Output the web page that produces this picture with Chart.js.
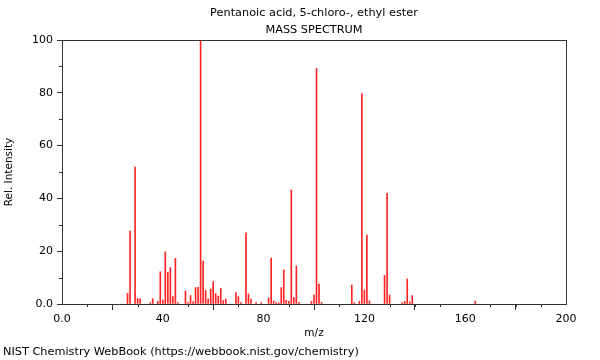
<!DOCTYPE html>
<html><head><meta charset="utf-8">
<script src="https://cdn.jsdelivr.net/npm/chart.js@4/dist/chart.umd.min.js"></script>
<style>html,body{margin:0;padding:0;background:#fff}#wrap{width:600px;height:360px}</style>
</head><body><div id="wrap"><canvas id="c" width="600" height="360"></canvas></div>
<script>
const titleLines = ['Pentanoic acid, 5-chloro-, ethyl ester', 'MASS SPECTRUM'];
const footerText = 'NIST Chemistry WebBook (https://webbook.nist.gov/chemistry)';
const xAxisTitle = 'm/z';
const yAxisTitle = 'Rel. Intensity';
const mzValues = [26,27,29,30,31,35,36,38,39,40,41,42,43,44,45,46,49,50,51,52,53,54,55,56,57,58,59,60,61,62,63,64,65,69,70,71,73,74,75,77,79,82,83,84,85,86,87,88,89,90,91,92,93,94,99,100,101,102,103,115,116,118,119,120,121,122,128,129,130,135,136,137,138,139,164];
const intensities = [4.0,27.6,51.9,2.1,2.0,0.5,2.0,1.0,12.2,1.5,19.7,12.0,13.8,2.8,17.3,0.5,4.9,0.5,3.2,0.8,6.2,6.3,100,16.3,5.1,1.9,5.7,8.5,4.0,3.0,5.9,1.3,1.9,4.3,2.8,0.5,27.0,3.8,1.9,0.5,0.5,2.3,17.4,1.2,0.5,0.5,6.2,12.9,1.4,1.0,43.2,2.4,14.4,0.6,1.0,3.4,89.2,7.5,0.6,7.2,0.5,1.0,79.7,5.3,26.1,1.2,10.8,41.9,3.4,0.5,1.0,9.5,0.8,3.2,1.1];
const xTickValues = [0,40,80,120,160,200];
const yTickValues = [0,20,40,60,80,100];
const xMinorStep = 10;
const yMinorStep = 10;

const axisColor = '#333333';
const barColor = 'rgb(255,35,35)';

const decor = {
  id: 'decor',
  afterDraw(chart) {
    const ctx = chart.ctx;
    const a = chart.chartArea;
    const xs = chart.scales.x, ys = chart.scales.y;
    ctx.save();
    ctx.strokeStyle = axisColor;
    ctx.lineWidth = 1;
    ctx.beginPath();
    ctx.moveTo(a.left, Math.round(a.top) + 0.5);
    ctx.lineTo(a.right, Math.round(a.top) + 0.5);
    ctx.moveTo(Math.round(a.right) + 0.5, a.top);
    ctx.lineTo(Math.round(a.right) + 0.5, a.bottom);
    for (let v = xs.min; v <= xs.max; v += xMinorStep) {
      if (xTickValues.includes(v)) continue;
      const px = Math.round(xs.getPixelForValue(v)) + 0.5;
      ctx.moveTo(px, a.bottom);
      ctx.lineTo(px, a.bottom + 3);
    }
    for (let v = ys.min; v <= ys.max; v += yMinorStep) {
      if (yTickValues.includes(v)) continue;
      const py = Math.round(ys.getPixelForValue(v)) + 0.5;
      ctx.moveTo(a.left, py);
      ctx.lineTo(a.left - 3, py);
    }
    ctx.stroke();
    ctx.fillStyle = '#000';
    ctx.font = '11.3px "DejaVu Sans"';
    ctx.textAlign = 'center';
    ctx.textBaseline = 'middle';
    const cx = (a.left + a.right) / 2;
    ctx.fillText(titleLines[0], cx, 13);
    ctx.fillText(titleLines[1], cx, 30);
    ctx.textAlign = 'left';
    ctx.fillText(footerText, 3, 352);
    ctx.restore();
  }
};

new Chart(document.getElementById('c'), {
  type: 'bar',
  data: {
    datasets: [{
      data: mzValues.map((m, i) => ({x: m, y: intensities[i]})),
      backgroundColor: barColor,
      borderWidth: 0,
      barThickness: 1,
      grouped: false
    }]
  },
  options: {
    responsive: false,
    devicePixelRatio: 1,
    animation: false,
    layout: {padding: {top: 40, right: 34, bottom: 20, left: 0}},
    plugins: {legend: {display: false}, tooltip: {enabled: false}, title: {display: false}},
    scales: {
      x: {
        type: 'linear', min: 0, max: 200, offset: false,
        afterFit(s) { s.height = 36; },
        afterBuildTicks(s) { s.ticks = xTickValues.map(v => ({value: v})); },
        ticks: {font: {family: 'DejaVu Sans', size: 11}, color: '#000', padding: 3, maxRotation: 0,
          callback: v => v === 0 ? '0.0' : String(v)},
        grid: {drawOnChartArea: false, drawTicks: true, tickLength: 6, tickColor: axisColor},
        border: {display: true, color: axisColor, width: 1},
        title: {display: true, text: xAxisTitle, font: {family: 'DejaVu Sans', size: 10.5}, color: '#000', padding: {top: 0, bottom: 0}}
      },
      y: {
        min: 0, max: 100,
        afterFit(s) { s.width = 62; },
        afterBuildTicks(s) { s.ticks = yTickValues.map(v => ({value: v})); },
        ticks: {font: {family: 'DejaVu Sans', size: 11}, color: '#000', padding: 4,
          callback: v => v === 0 ? '0.0' : String(v)},
        grid: {drawOnChartArea: false, drawTicks: true, tickLength: 5, tickColor: axisColor},
        border: {display: true, color: axisColor, width: 1},
        title: {display: true, text: yAxisTitle, font: {family: 'DejaVu Sans', size: 10.5}, color: '#000', padding: {top: 3, bottom: 0}}
      }
    }
  },
  plugins: [decor]
});
</script>
</body></html>
